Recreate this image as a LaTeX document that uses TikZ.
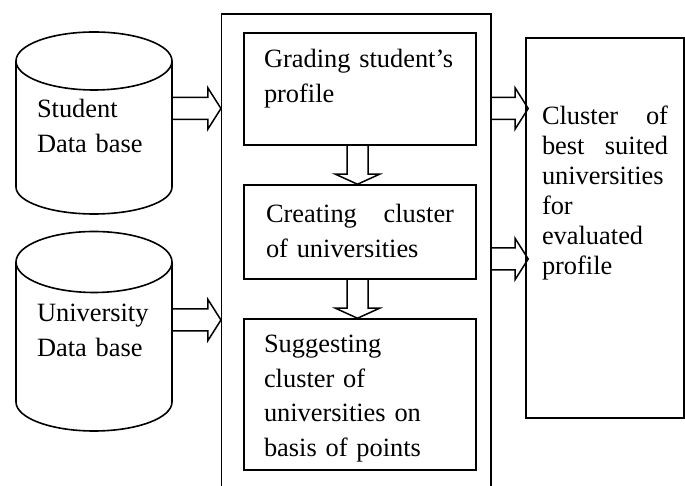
\documentclass[tikz,border=0pt]{standalone}
\usepackage{fontspec}
\setmainfont{Liberation Serif}
\usetikzlibrary{calc}

\tikzstyle{dbnode}=[inner xsep=21pt, inner ysep=0pt, outer sep=0pt, text width=114pt, align=left, minimum width=156pt]
\tikzstyle{dbline}=[line width=1.6pt]
\tikzstyle{procbox}=[draw, line width=1.5pt, inner ysep=0pt, minimum width=232pt, align=left]
\tikzstyle{sysbox}=[draw, line width=1.1pt, minimum width=269.5pt, minimum height=480pt]
\tikzstyle{rarrow}=[line width=1.5pt, to path={let \p1=(\tikztostart), \p2=(\tikztotarget) in
  (\x1,\y1+11) -- (\x2-13,\y1+11) -- (\x2-13,\y1+20.5) -- (\x2,\y1)
  -- (\x2-13,\y1-20.5) -- (\x2-13,\y1-11) -- (\x1,\y1-11)}]
\tikzstyle{darrow}=[line width=1.5pt, to path={let \p1=(\tikztostart), \p2=(\tikztotarget) in
  (\x1-10.5,\y1) -- (\x1-10.5,\y2+10) -- (\x1-22,\y2+10) -- (\x1,\y2)
  -- (\x1+22,\y2+10) -- (\x1+10.5,\y2+10) -- (\x1+10.5,\y1)}]

\begin{document}
\begin{tikzpicture}[x=1pt, y=1pt, font=\fontsize{26.4}{34.5}\selectfont]
      \useasboundingbox (0,0) rectangle (685,486);

      % data bases
      \node[dbnode, text height=57pt, text depth=69pt] (sdb) at (94, 362) {Student\\Data base};
      \node[dbnode, text height=60pt, text depth=80pt] (udb) at (94, 154) {University\\Data base};
      \draw[dbline] (sdb.north west) -- (sdb.south west) arc[start angle=180, end angle=360, x radius=78, y radius=27] -- (sdb.north east);
      \draw[dbline] (sdb.north) ellipse[x radius=78, y radius=29];
      \draw[dbline] (udb.north west) -- (udb.south west) arc[start angle=180, end angle=360, x radius=78, y radius=29] -- (udb.north east);
      \draw[dbline] (udb.north) ellipse[x radius=78, y radius=30.5];

      % system
      \node[sysbox] (sys) at (356.25, 232) {};
      \node[procbox, inner xsep=20pt, text width=192pt, text height=35pt, text depth=77pt] (grade) at (360, 397) {Grading student's\\profile};
      \node[procbox, inner xsep=22pt, text width=188pt, text height=38pt, text depth=56pt] (clust) at (360, 254) {Creating \hfill cluster\\of universities};
      \node[procbox, inner xsep=20pt, text width=192pt, text height=34pt, text depth=117pt] (suggest) at (360, 91.5) {Suggesting\\cluster of\\universities on\\basis of points};

      % result
      \node[procbox, line width=1.6pt, font=\fontsize{26.4}{30}\selectfont, minimum width=158pt, inner xsep=16pt, text width=126pt, text height=87pt, text depth=293pt] (res) at (605, 258) {Cluster \hfill of\\best \hfill suited\\universities\\for\\evaluated\\profile};

      \draw[rarrow] ([yshift=15.5]sdb.east) to (sys.west);
      \draw[rarrow] ([yshift=12]udb.east) to (sys.west);
      \draw[darrow] ([xshift=-2.5]grade.south) to (clust.north);
      \draw[darrow] ([xshift=-2.5]clust.south) to (suggest.north);
      \draw[rarrow] ([yshift=145.5]sys.east) to ([xshift=3]res.west);
      \draw[rarrow] ([yshift=-5]sys.east) to ([xshift=3]res.west);
    \end{tikzpicture}
\end{document}
